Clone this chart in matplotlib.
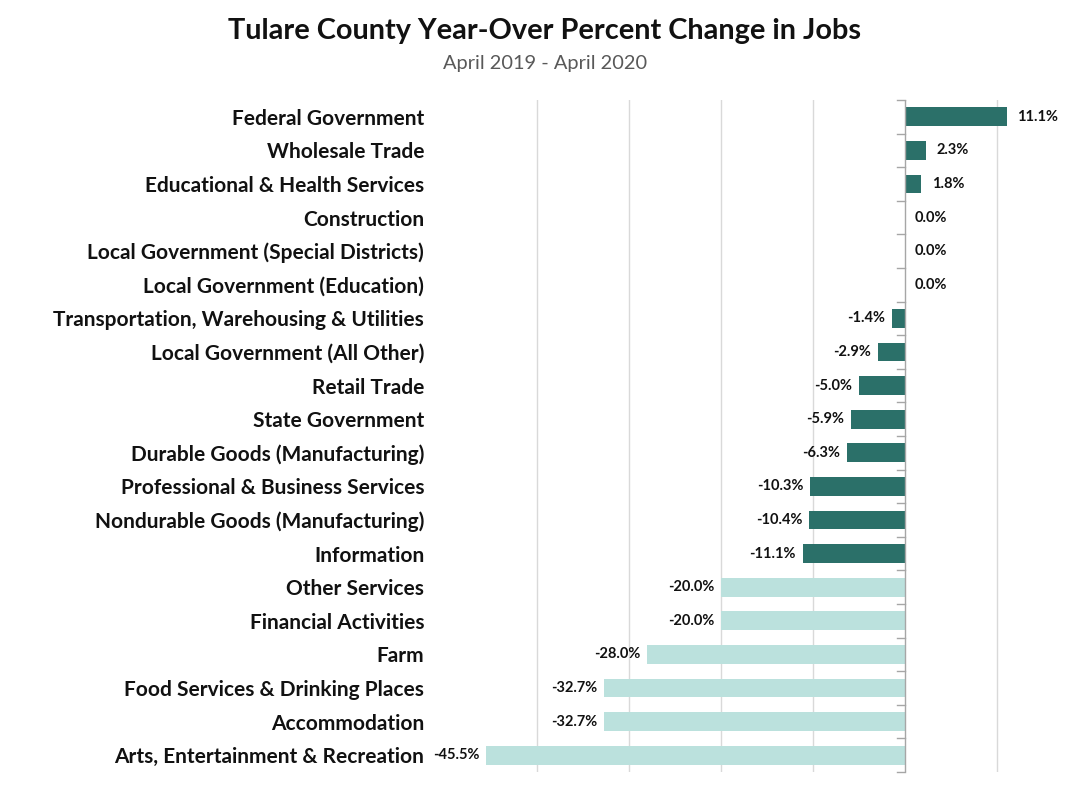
import numpy as np
import matplotlib
matplotlib.use('Agg')
import matplotlib.pyplot as plt

# === Data (top to bottom as shown) ===
industries = [
    "Federal Government",
    "Wholesale Trade",
    "Educational & Health Services",
    "Construction",
    "Local Government (Special Districts)",
    "Local Government (Education)",
    "Transportation, Warehousing & Utilities",
    "Local Government (All Other)",
    "Retail Trade",
    "State Government",
    "Durable Goods (Manufacturing)",
    "Professional & Business Services",
    "Nondurable Goods (Manufacturing)",
    "Information",
    "Other Services",
    "Financial Activities",
    "Farm",
    "Food Services & Drinking Places",
    "Accommodation",
    "Arts, Entertainment & Recreation",
]
pct_change = [11.1, 2.3, 1.8, 0.0, 0.0, 0.0, -1.4, -2.9, -5.0, -5.9,
              -6.3, -10.3, -10.4, -11.1, -20.0, -20.0, -28.0, -32.7, -32.7, -45.5]

DARK = "#2b7069"
LIGHT = "#bbe1dd"
FONT = "Lato"

plt.rcParams['font.family'] = [FONT, 'DejaVu Sans']

fig = plt.figure(figsize=(10.75, 7.89), dpi=100)
ax = fig.add_axes([445 / 1075, 1 - 772 / 789, 1 - 445 / 1075, (772 - 100) / 789])

y = np.arange(len(industries))
colors = [LIGHT if v <= -20 else DARK for v in pct_change]
ax.barh(y, pct_change, height=0.555, color=colors, zorder=3)

ax.set_ylim(len(industries) - 0.5, -0.5)
ax.set_xlim(-50, 18.5)

# gridlines (no line at the left edge)
for gx in [-40, -30, -20, -10, 10]:
    ax.axvline(gx, color="#d9d9d9", lw=1, zorder=1)
ax.axvline(0, color="#a6a6a6", lw=1, zorder=4)

# category tick marks on the zero axis
for b in np.arange(-0.5, len(industries), 1):
    ax.plot([-0.9, 0], [b, b], color="#a6a6a6", lw=1, zorder=4, clip_on=False)

for s in ax.spines.values():
    s.set_visible(False)
ax.set_xticks([])
ax.set_yticks(y)
ax.set_yticklabels(industries, fontsize=15, fontweight="bold", color="#111111")
ax.tick_params(axis="y", length=0, pad=15)

# data labels
for yi, v in zip(y, pct_change):
    if v >= 0:
        ax.text(v + 1.1, yi, f"{v:.1f}%", ha="left", va="center",
                fontsize=10.5, fontweight="bold", color="#111111")
    else:
        ax.text(v - 0.75, yi, f"{v:.1f}%", ha="right", va="center",
                fontsize=10.5, fontweight="bold", color="#111111")

fig.text(545 / 1075, 1 - 31 / 789, "Tulare County Year-Over Percent Change in Jobs",
         ha="center", va="center", fontsize=20.8, fontweight="bold", color="#111111")
fig.text(545 / 1075, 1 - 63 / 789, "April 2019 - April 2020",
         ha="center", va="center", fontsize=14.4, color="#595959")

fig.savefig("out.png", dpi=100)
